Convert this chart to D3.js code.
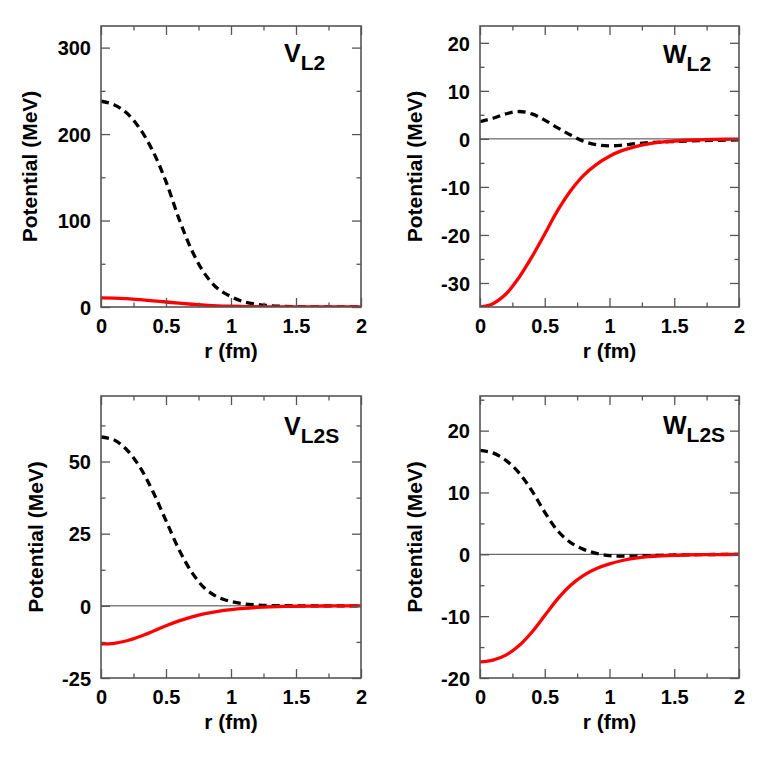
<!DOCTYPE html>
<html>
<head>
<meta charset="utf-8">
<script src="https://cdn.jsdelivr.net/npm/d3@7/dist/d3.min.js"></script>
<style>
  html, body { margin: 0; padding: 0; background: #fff; }
  svg { display: block; }
  text { font-family: "Liberation Sans", Arial, Helvetica, sans-serif; font-weight: bold; fill: #000; }
</style>
</head>
<body>
<svg id="chart" width="768" height="759"></svg>
<script>
// ---------------- data ----------------
const r = [0,0.1,0.2,0.3,0.4,0.5,0.6,0.7,0.8,0.9,1.0,1.1,1.2,1.3,1.4,1.5,1.6,1.7,1.8,1.9,2.0];

// V_L2
const vL2Dashed = [238,234,224,206,180,145,102,65,38,21,12,6,3,1.5,0.8,0.4,0.2,0.1,0.05,0.02,0];
const vL2Solid  = [10.5,10.3,9.6,8.5,7.2,5.8,4.4,3.2,2.2,1.4,0.9,0.5,0.3,0.15,0.08,0.04,0.02,0.01,0,0,0];

// W_L2
const wL2Dashed = [3.6,4.3,5.2,5.7,5.2,3.9,2.3,0.8,-0.5,-1.2,-1.45,-1.3,-1.0,-0.8,-0.65,-0.55,-0.45,-0.37,-0.3,-0.25,-0.2];
const wL2Solid  = [-35,-34.3,-32.3,-28.9,-24.6,-19.8,-14.9,-10.8,-7.6,-5.3,-3.6,-2.4,-1.6,-1.05,-0.68,-0.44,-0.29,-0.19,-0.12,-0.08,-0.05];

// V_L2S
const vL2SDashed = [58.5,57.5,54,48,39.5,29.5,19.5,11.5,6,3,1.5,0.7,0.3,0.1,0.05,0.02,0,0,0,0,0];
const vL2SSolid  = [-13.2,-13.0,-12.1,-10.6,-8.8,-6.9,-5.2,-3.8,-2.7,-1.9,-1.3,-0.85,-0.55,-0.35,-0.22,-0.14,-0.09,-0.06,-0.04,-0.03,-0.02];

// W_L2S
const wL2SDashed = [16.8,16.4,15.2,13.2,10.3,6.8,3.8,1.9,0.8,0.15,-0.2,-0.3,-0.28,-0.22,-0.16,-0.11,-0.08,-0.05,-0.03,-0.02,-0.01];
const wL2SSolid  = [-17.4,-17.1,-16.3,-14.8,-12.6,-9.9,-7.2,-5.0,-3.4,-2.3,-1.55,-1.0,-0.62,-0.38,-0.24,-0.15,-0.1,-0.06,-0.04,-0.03,-0.02];

// ticks
const xMajor = [0,0.5,1,1.5,2];
const xMinor = [0.25,0.75,1.25,1.75];
const yMajor1 = [0,100,200,300];      const yMinor1 = [50,150,250];
const yMajor2 = [-30,-20,-10,0,10,20]; const yMinor2 = [-25,-15,-5,5,15];
const yMajor3 = [-25,0,25,50];         const yMinor3 = [-12.5,12.5,37.5,62.5];
const yMajor4 = [-20,-10,0,10,20];     const yMinor4 = [-15,-5,5,15,25];

const xTitle = "r (fm)";
const yTitle = "Potential (MeV)";

// ---------------- layout ----------------
const panels = [
  { box:[101,361,26,307],  yDom:[0,325],    yMaj:yMajor1, yMin:yMinor1, dashed:vL2Dashed,  solid:vL2Solid,  main:"V", sub:"L2",  zero:false, labBase:62,  yTitleX:37 },
  { box:[480,739,26,307],  yDom:[-35,23.5], yMaj:yMajor2, yMin:yMinor2, dashed:wL2Dashed,  solid:wL2Solid,  main:"W", sub:"L2",  zero:true,  labBase:63,  yTitleX:422 },
  { box:[101,361,396,678], yDom:[-25,72.7], yMaj:yMajor3, yMin:yMinor3, dashed:vL2SDashed, solid:vL2SSolid, main:"V", sub:"L2S", zero:true,  labBase:435, yTitleX:43 },
  { box:[480,739,396,678], yDom:[-20,25.6], yMaj:yMajor4, yMin:yMinor4, dashed:wL2SDashed, solid:wL2SSolid, main:"W", sub:"L2S", zero:true,  labBase:434, yTitleX:422 }
];

const svg = d3.select("#chart");
const frameColor = "#555";
const majLen = 9, minLen = 4.5;

panels.forEach((p, i) => {
  const [L, R, T, B] = p.box;
  const x = d3.scaleLinear().domain([0,2]).range([L,R]);
  const y = d3.scaleLinear().domain(p.yDom).range([B,T]);
  const g = svg.append("g");

  const clipId = "clip" + i;
  svg.append("clipPath").attr("id", clipId)
    .append("rect").attr("x", L).attr("y", T).attr("width", R-L).attr("height", B-T);

  if (p.zero) {
    g.append("line").attr("x1", L).attr("x2", R).attr("y1", y(0)).attr("y2", y(0))
      .attr("stroke", "#444").attr("stroke-width", 1);
  }

  const line = d3.line().x((d,j) => x(r[j])).y(d => y(d)).curve(d3.curveCatmullRom.alpha(0.5));
  const cg = g.append("g").attr("clip-path", `url(#${clipId})`);
  cg.append("path").datum(p.dashed).attr("d", line)
    .attr("fill","none").attr("stroke","#000").attr("stroke-width",3.3)
    .attr("stroke-dasharray","8,5");
  cg.append("path").datum(p.solid).attr("d", line)
    .attr("fill","none").attr("stroke","#ff0000").attr("stroke-width",3.3);

  const axB = d3.axisBottom(x).tickValues(xMajor).tickSizeInner(-majLen).tickSizeOuter(0).tickPadding(0).tickFormat(d => String(d));
  const axBm = d3.axisBottom(x).tickValues(xMinor).tickSizeInner(-minLen).tickSizeOuter(0).tickFormat("");
  const axT = d3.axisTop(x).tickValues(xMajor).tickSizeInner(-majLen).tickSizeOuter(0).tickFormat("");
  const axTm = d3.axisTop(x).tickValues(xMinor).tickSizeInner(-minLen).tickSizeOuter(0).tickFormat("");
  const axL = d3.axisLeft(y).tickValues(p.yMaj).tickSizeInner(-majLen).tickSizeOuter(0).tickPadding(0).tickFormat(d => String(d));
  const axLm = d3.axisLeft(y).tickValues(p.yMin).tickSizeInner(-minLen).tickSizeOuter(0).tickFormat("");
  const axR = d3.axisRight(y).tickValues(p.yMaj).tickSizeInner(-majLen).tickSizeOuter(0).tickFormat("");
  const axRm = d3.axisRight(y).tickValues(p.yMin).tickSizeInner(-minLen).tickSizeOuter(0).tickFormat("");

  const styleAxis = sel => {
    sel.select(".domain").remove();
    sel.selectAll(".tick line").attr("stroke", frameColor).attr("stroke-width", 1.3);
    sel.selectAll("text").attr("font-size", 20).attr("font-weight","bold")
      .attr("font-family", '"Liberation Sans", Arial, Helvetica, sans-serif').attr("fill","#000");
  };

  const gb = g.append("g").attr("transform", `translate(0,${B})`).call(axB).call(styleAxis);
  gb.selectAll(".tick text").attr("dy", null).attr("y", 26);
  g.append("g").attr("transform", `translate(0,${B})`).call(axBm).call(styleAxis);
  g.append("g").attr("transform", `translate(0,${T})`).call(axT).call(styleAxis);
  g.append("g").attr("transform", `translate(0,${T})`).call(axTm).call(styleAxis);
  const gl = g.append("g").attr("transform", `translate(${L},0)`).call(axL).call(styleAxis);
  gl.selectAll(".tick text").attr("x", -10).attr("dy", "0.36em");
  g.append("g").attr("transform", `translate(${L},0)`).call(axLm).call(styleAxis);
  g.append("g").attr("transform", `translate(${R},0)`).call(axR).call(styleAxis);
  g.append("g").attr("transform", `translate(${R},0)`).call(axRm).call(styleAxis);

  g.append("rect").attr("x", L).attr("y", T).attr("width", R-L).attr("height", B-T)
    .attr("fill","none").attr("stroke", frameColor).attr("stroke-width", 1.6);

  g.append("text").attr("x", (L+R)/2).attr("y", B+51).attr("text-anchor","middle")
    .attr("font-size", 21).text(xTitle);
  g.append("text").attr("transform", `translate(${p.yTitleX},${(T+B)/2}) rotate(-90)`)
    .attr("text-anchor","middle").attr("font-size", 21).text(yTitle);

  const lab = g.append("text").attr("x", L+183).attr("y", p.labBase).attr("font-size", 25);
  lab.append("tspan").text(p.main);
  lab.append("tspan").attr("font-size", 21).attr("dy", 8).text(p.sub);
});
</script>
</body>
</html>
